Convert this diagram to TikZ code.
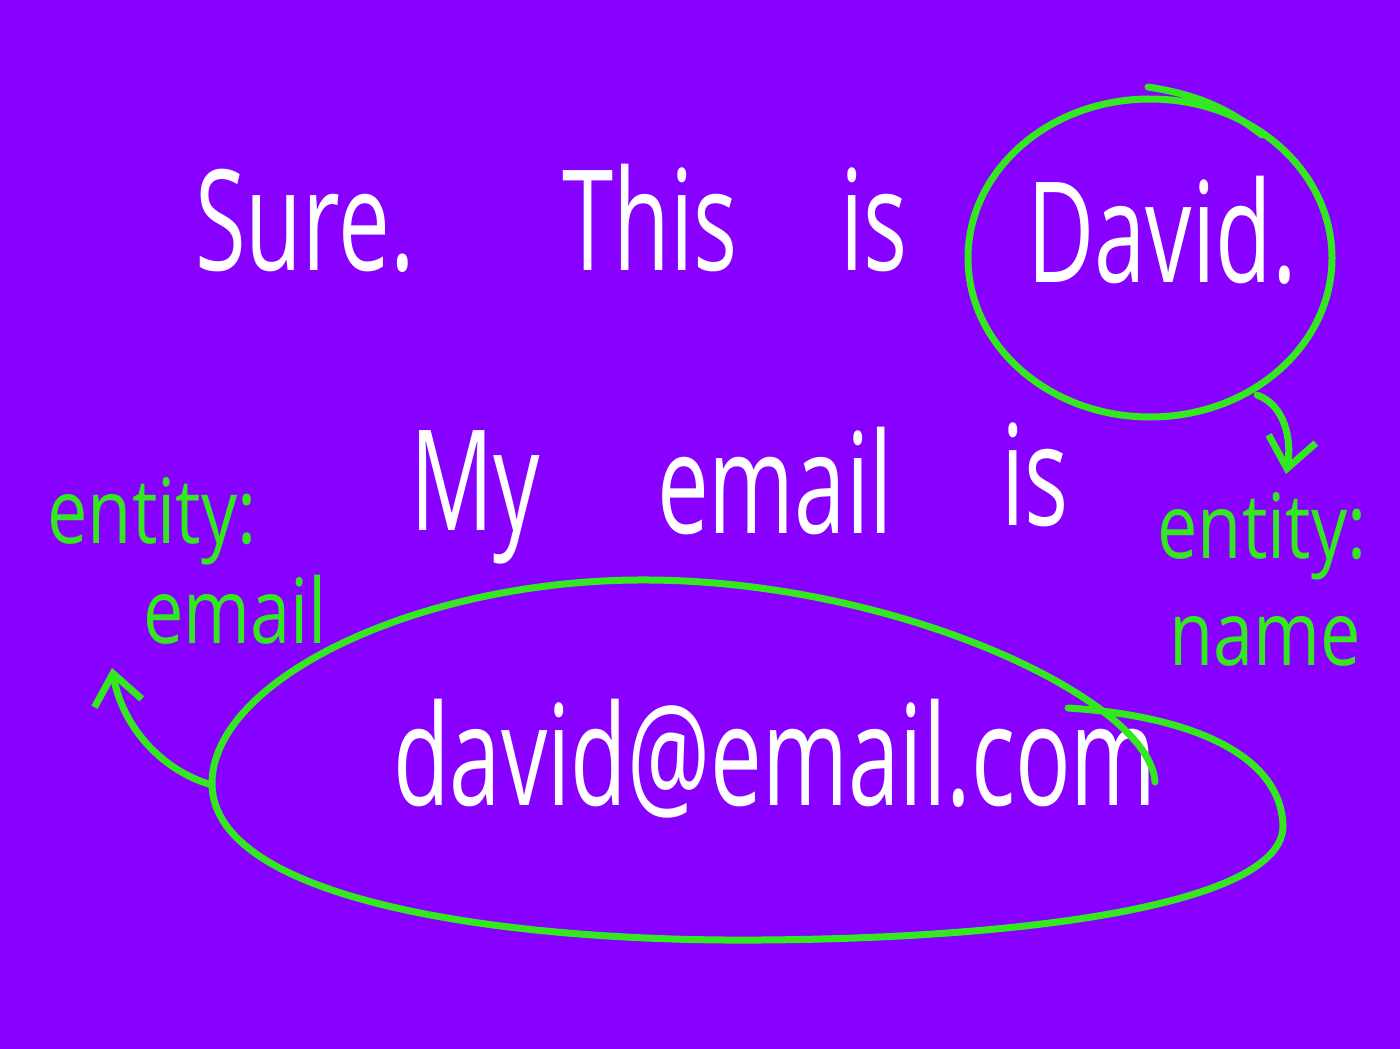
\documentclass[tikz,border=0pt]{standalone}
\usepackage{fontspec}
\setmainfont[FakeStretch=0.66]{Open Sans}
\newfontfamily\labelfont[FakeStretch=0.8]{Open Sans}
\usetikzlibrary{shapes.geometric,arrows.meta}
\definecolor{bgpurple}{RGB}{136,0,255}
\definecolor{markgreen}{RGB}{51,232,30}
\tikzset{
  bigword/.style={text=white, anchor=base, inner sep=0pt, font=\fontsize{140}{160}\selectfont},
  greenword/.style={text=markgreen, anchor=base, inner sep=0pt, font=\labelfont\fontsize{90}{100}\selectfont},
  greenline/.style={draw=markgreen, line width=7pt, line cap=round, line join=round},
  greenarrow/.style={greenline, -{Straight Barb[length=30pt,width=48pt,line width=7pt]}}
}
\begin{document}
\begin{tikzpicture}[x=1pt,y=-1pt]
\fill[bgpurple] (0,0) rectangle (1400,1049);
\useasboundingbox (0,0) rectangle (1400,1049);
% first line
\node[bigword] (w1) at (305,270) {Sure.};
\node[bigword] (w2) at (650,270) {This};
\node[bigword] (w3) at (874,270) {is};
\node[bigword] (w4) at (1162,282) {David.};
% second line
\node[bigword] (w5) at (475,530) {My};
\node[bigword] (w6) at (775,533) {email};
\node[bigword] (w7) at (1035,525) {is};
% third line
\node[bigword] (w8) at (775,805) {david@email.com};
% circle around David
\node[ellipse, greenline, minimum width=364pt, minimum height=318pt, inner sep=0pt] (circ) at (1150,258) {};
\draw[greenline] (1148,87) .. controls (1200,95) and (1230,110) .. (1262,135);
% labels
\node[greenword] (lab1) at (1262,558) {entity:};
\node[greenword] (lab2) at (1265,665) {name};
\node[greenword] (lab3) at (152,543) {entity:};
\node[greenword] (lab4) at (235,643) {email};
% big ellipse
\coordinate (ellstart) at (1155,782);
\coordinate (elltop) at (650,580);
\coordinate (ellleft) at (212,785);
\coordinate (ellbot) at (760,940);
\coordinate (ellright) at (1283,825);
\coordinate (ellend) at (1068,708);
\draw[greenline] (ellstart) .. controls (1150,700) and (900,582) .. (elltop)
  .. controls (420,578) and (210,680) .. (ellleft)
  .. controls (215,900) and (500,942) .. (ellbot)
  .. controls (1050,938) and (1285,900) .. (ellright)
  .. controls (1280,750) and (1180,715) .. (ellend);
% arrows
\coordinate (rightstart) at (1257,395);
\coordinate (righttip) at (1286,474);
\draw[greenarrow] (rightstart) .. controls (1285,405) and (1292,440) .. (righttip);
\coordinate (lefttip) at (112,668);
\draw[greenarrow] (ellleft) .. controls (160,770) and (122,725) .. (lefttip);
\end{tikzpicture}
\end{document}
